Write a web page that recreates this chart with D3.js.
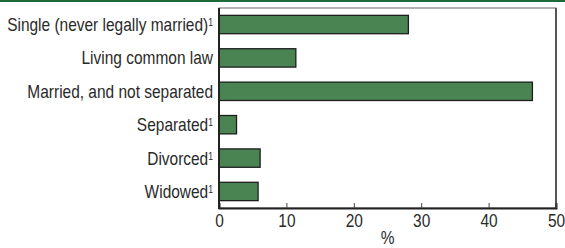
<!DOCTYPE html>
<html>
<head>
<meta charset="utf-8">
<script src="https://cdn.jsdelivr.net/npm/d3@7"></script>
<style>
  html, body { margin: 0; padding: 0; background: #fff; overflow: hidden; height: 248px; }
  svg { display: block; position: absolute; left: 0; top: 0; }
  svg text { font-family: "Liberation Sans", Arial, sans-serif; fill: #2a2a2a; }
</style>
</head>
<body>
<svg width="565" height="248"></svg>
<script>
var categories = ["Single (never legally married)", "Living common law", "Married, and not separated", "Separated", "Divorced", "Widowed"];
var footnote = ["1", "", "", "1", "1", "1"];
var values = [28.1, 11.4, 46.5, 2.6, 6.1, 5.8];
var xTicks = [0, 10, 20, 30, 40, 50];

var svg = d3.select("svg");
var plotLeft = 219, plotRight = 556, plotTop = 8, plotBottom = 208;
var squeeze = 0.86; // narrow type

// green rule at the very top
svg.append("rect")
  .attr("x", 0).attr("y", 0)
  .attr("width", 565).attr("height", 2)
  .attr("fill", "#1c6b38");

var x = d3.scaleLinear().domain([0, 50]).range([plotLeft, plotRight]);
var y = d3.scaleBand().domain(categories).range([plotTop, plotBottom]).paddingInner(0.45).paddingOuter(0.22);

// frame
svg.append("rect")
  .attr("x", plotLeft).attr("y", plotTop)
  .attr("width", plotRight - plotLeft).attr("height", plotBottom - plotTop)
  .attr("fill", "none").attr("stroke", "#666").attr("stroke-width", 1);
svg.append("line")
  .attr("x1", plotRight).attr("x2", plotRight).attr("y1", plotTop).attr("y2", plotBottom)
  .attr("stroke", "#555").attr("stroke-width", 2);

// bars
svg.selectAll("rect.bar")
  .data(values)
  .enter()
  .append("rect")
  .classed("bar", true)
  .attr("x", x(0))
  .attr("y", function(d, i) { return y(categories[i]); })
  .attr("width", function(d) { return x(d) - x(0); })
  .attr("height", y.bandwidth())
  .attr("fill", "#4a8452")
  .attr("stroke", "#1e1e1e")
  .attr("stroke-width", 1.3);

// x axis
var xAxis = svg.append("g")
  .attr("transform", "translate(0," + plotBottom + ")")
  .call(d3.axisBottom(x).tickValues(xTicks).tickSize(-5).tickPadding(6).tickFormat(d3.format("d")));
xAxis.select(".domain").attr("stroke", "#222").attr("stroke-width", 2);
xAxis.selectAll(".tick line").attr("stroke", "#444");
xAxis.selectAll(".tick text")
  .attr("font-size", 18).attr("fill", "#2a2a2a")
  .style("font-family", "\"Liberation Sans\", Arial, sans-serif")
  .attr("transform", "scale(" + squeeze + ",1)");

// y axis line
svg.append("line")
  .attr("x1", plotLeft).attr("x2", plotLeft).attr("y1", plotTop).attr("y2", plotBottom + 1)
  .attr("stroke", "#222").attr("stroke-width", 2);

// category labels
var labels = svg.selectAll("text.cat")
  .data(categories)
  .enter()
  .append("text")
  .classed("cat", true)
  .attr("transform", function(d) {
    return "translate(" + (plotLeft - 6) + "," + (y(d) + y.bandwidth() / 2) + ") scale(" + squeeze + ",1)";
  })
  .attr("dy", "0.36em")
  .attr("text-anchor", "end")
  .attr("font-size", 18);
labels.append("tspan").text(function(d) { return d; });
labels.append("tspan")
  .attr("dy", "-0.5em")
  .attr("font-size", 10)
  .text(function(d, i) { return footnote[i]; });

// axis title
svg.append("text")
  .attr("transform", "translate(" + x(25) + ",244) scale(" + squeeze + ",1)")
  .attr("text-anchor", "middle")
  .attr("font-size", 18)
  .text("%");
</script>
</body>
</html>
